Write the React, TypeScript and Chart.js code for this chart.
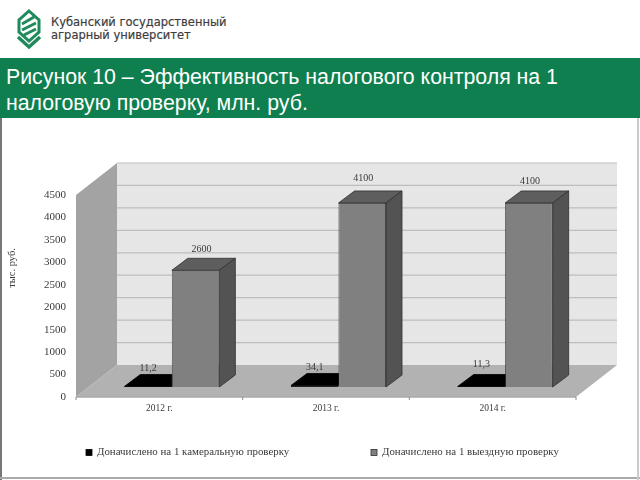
import React, { useEffect, useRef } from "react";
import { Chart, registerables } from "chart.js";

Chart.register(...registerables);

const categories = ["2012 г.", "2013 г.", "2014 г."];
const deskSeries = [11.2, 34.1, 11.3];
const fieldSeries = [2600, 4100, 4100];
const deskLabels = ["11,2", "34,1", "11,3"];
const fieldLabels = ["2600", "4100", "4100"];
const yTicks = [0, 500, 1000, 1500, 2000, 2500, 3000, 3500, 4000, 4500];
const seriesNames = ["Доначислено на 1 камеральную проверку", "Доначислено на 1 выездную проверку"];
const titleLines = ["Рисунок 10 – Эффективность налогового контроля на 1", "налоговую проверку, млн. руб."];
const logoLines = ["Кубанский государственный", "аграрный университет"];
const yTitle = "тыс. руб.";

const SERIF = "'Liberation Serif', serif";
const BAR_SHIFT = { x: 12.5, y: -10 };
const BAR_DEPTH = { x: 16, y: -12 };
const WALL_DEPTH = { x: 41, y: -32 };
const LEGEND_X = [89, 374];
const LEGEND_Y = 452.5;
const LABEL_OFFSETS: number[][][] = [
  [[0, -18], [0, -18], [0, -22]],
  [[6, -21], [1, -25], [1, -22]],
];

const scene = {
  id: "scene3d",
  beforeDatasetsDraw(chart: any) {
    const { ctx, chartArea: a, scales } = chart;
    const y = scales.y;
    const d = WALL_DEPTH;
    ctx.save();
    ctx.fillStyle = "#e6e6e6";
    ctx.fillRect(a.left + d.x, a.top + d.y, a.right - a.left, a.bottom - a.top);
    ctx.fillStyle = "#a3a3a3";
    ctx.beginPath();
    ctx.moveTo(a.left, a.top);
    ctx.lineTo(a.left + d.x, a.top + d.y);
    ctx.lineTo(a.left + d.x, a.bottom + d.y);
    ctx.lineTo(a.left, a.bottom);
    ctx.closePath();
    ctx.fill();
    ctx.fillStyle = "#b2b2b2";
    ctx.beginPath();
    ctx.moveTo(a.left, a.bottom);
    ctx.lineTo(a.left + d.x, a.bottom + d.y);
    ctx.lineTo(a.right + d.x, a.bottom + d.y);
    ctx.lineTo(a.right, a.bottom);
    ctx.closePath();
    ctx.fill();
    ctx.strokeStyle = "#bdbdbd";
    ctx.lineWidth = 1.2;
    yTicks.forEach((v) => {
      if (v === 0) return;
      const py = y.getPixelForValue(v) + d.y;
      ctx.beginPath();
      ctx.moveTo(a.left + d.x, py);
      ctx.lineTo(a.right + d.x, py);
      ctx.stroke();
    });
    ctx.strokeStyle = "#a8a8a8";
    ctx.lineWidth = 1.5;
    ctx.beginPath();
    ctx.moveTo(a.left, a.bottom);
    ctx.lineTo(a.right, a.bottom);
    ctx.stroke();
    ctx.strokeStyle = "#8c8c8c";
    ctx.lineWidth = 1;
    for (let i = 0; i <= categories.length; i++) {
      const px = a.left + ((a.right - a.left) * i) / categories.length;
      ctx.beginPath();
      ctx.moveTo(px, a.bottom);
      ctx.lineTo(px, a.bottom + 3);
      ctx.stroke();
    }
    ctx.restore();
  },
  beforeDatasetDraw(chart: any) {
    chart.ctx.save();
    chart.ctx.translate(BAR_SHIFT.x, BAR_SHIFT.y);
  },
  afterDatasetDraw(chart: any, args: any) {
    const { ctx } = chart;
    const d = BAR_DEPTH;
    const isField = args.index === 1;
    args.meta.data.forEach((bar: any) => {
      const { x, y, base, width } = bar.getProps(["x", "y", "base", "width"], true);
      const l = x - width / 2;
      const r = x + width / 2;
      ctx.lineWidth = 0.8;
      ctx.strokeStyle = isField ? "#2f2f2f" : "#000";
      ctx.fillStyle = isField ? "#5e5e5e" : "#000";
      ctx.beginPath();
      ctx.moveTo(l, y);
      ctx.lineTo(l + d.x, y + d.y);
      if (isField) {
        ctx.lineTo(r + d.x, y + d.y);
        ctx.lineTo(r, y);
      } else {
        // the neighbouring field-audit bar hides everything right of this edge
        ctx.lineTo(r, y + d.y);
        ctx.lineTo(r, y);
      }
      ctx.closePath();
      ctx.fill();
      ctx.stroke();
      if (isField) {
        ctx.fillStyle = "#535353";
        ctx.beginPath();
        ctx.moveTo(r, y);
        ctx.lineTo(r + d.x, y + d.y);
        ctx.lineTo(r + d.x, base + d.y);
        ctx.lineTo(r, base);
        ctx.closePath();
        ctx.fill();
        ctx.stroke();
      }
    });
    ctx.restore();
  },
  afterDatasetsDraw(chart: any) {
    const { ctx } = chart;
    ctx.save();
    ctx.font = `10px ${SERIF}`;
    ctx.fillStyle = "#3a3a3a";
    ctx.textAlign = "center";
    ctx.textBaseline = "middle";
    [deskLabels, fieldLabels].forEach((labels, ds) => {
      chart.getDatasetMeta(ds).data.forEach((bar: any, i: number) => {
        const [ox, oy] = LABEL_OFFSETS[ds][i];
        ctx.fillText(labels[i], bar.x + BAR_SHIFT.x + ox, bar.y + BAR_SHIFT.y + oy);
      });
    });
    // y-axis title, set above the axis centre as in the source figure
    ctx.save();
    ctx.translate(12, 268);
    ctx.rotate(-Math.PI / 2);
    ctx.font = `10.5px ${SERIF}`;
    ctx.fillText(yTitle, 0, 0);
    ctx.restore();
    // legend
    ctx.textAlign = "left";
    ctx.font = `10.9px ${SERIF}`;
    chart.data.datasets.forEach((ds: any, i: number) => {
      ctx.fillStyle = ds.backgroundColor;
      ctx.strokeStyle = ds.borderColor;
      ctx.lineWidth = 0.8;
      ctx.fillRect(LEGEND_X[i] - 3, LEGEND_Y - 3, 6, 6);
      ctx.strokeRect(LEGEND_X[i] - 3, LEGEND_Y - 3, 6, 6);
      ctx.fillStyle = "#3a3a3a";
      ctx.fillText(ds.label, LEGEND_X[i] + 8, LEGEND_Y);
    });
    ctx.restore();
  },
};

export default function App() {
  const ref = useRef<HTMLCanvasElement>(null);
  useEffect(() => {
    document.body.style.margin = "0";
    document.body.style.background = "#fff";
    const chart = new Chart(ref.current!, {
      type: "bar",
      data: {
        labels: categories,
        datasets: [
          { label: seriesNames[0], data: deskSeries, backgroundColor: "#000000", borderColor: "#000000", borderWidth: 0.8 },
          { label: seriesNames[1], data: fieldSeries, backgroundColor: "#808080", borderColor: "#2f2f2f", borderWidth: 0.8 },
        ],
      },
      plugins: [scene],
      options: {
        animation: false,
        responsive: false,
        devicePixelRatio: 1,
        layout: { padding: { left: 8, right: 64, top: 195, bottom: 0 } },
        datasets: { bar: { categoryPercentage: 0.57, barPercentage: 1 } },
        plugins: {
          tooltip: { enabled: false },
          legend: { display: false },
        },
        scales: {
          x: {
            grid: { display: false },
            border: { display: false },
            ticks: { color: "#3a3a3a", font: { family: SERIF, size: 9.5 }, padding: -2 },
            afterFit: (s: any) => { s.height = 83; },
          },
          y: {
            min: 0,
            max: 4500,
            grid: { display: false },
            border: { display: false },
            afterFit: (s: any) => { s.width = 68; },
            ticks: {
              stepSize: 500,
              color: "#3a3a3a",
              font: { family: SERIF, size: 11 },
              padding: 2,
              callback: (v: any) => String(v),
            },
          },
        },
      },
    });
    return () => chart.destroy();
  }, []);

  return (
    <div style={{ position: "relative", width: 640, height: 480, overflow: "hidden", background: "#fff" }}>
      <svg style={{ position: "absolute", left: 16, top: 9, filter: "blur(0.3px)" }} width="26" height="42" viewBox="0 0 26 42">
        <path d="M13 2 L23 11 L23 23 L13 32 L3 23 L3 11 Z" fill="none" stroke="#1f8a5b" strokeWidth="3" />
        <path d="M6 15 L18 8 M6 21 L20 14 M8 26 L20 20" stroke="#1f8a5b" strokeWidth="3" />
        <path d="M2 28 L13 38 L24 28" fill="none" stroke="#1f8a5b" strokeWidth="3.4" />
      </svg>
      <div style={{ position: "absolute", left: 51, top: 16, fontFamily: "'DejaVu Sans', sans-serif", fontSize: 11.5, fontWeight: 500, lineHeight: "13px", color: "#3d3d3d", whiteSpace: "nowrap", WebkitTextStroke: "0.2px #3d3d3d" }}>
        {logoLines.map((t) => <div key={t}>{t}</div>)}
      </div>
      <div style={{ position: "absolute", left: 0, top: 58, width: 640, height: 60, background: "#0f7f4f" }} />
      <div style={{ position: "absolute", left: 6, top: 64, fontFamily: "'Liberation Sans', sans-serif", fontSize: 21.3, lineHeight: "26px", color: "#fff", whiteSpace: "nowrap" }}>
        {titleLines.map((t) => <div key={t}>{t}</div>)}
      </div>
      <div style={{ position: "absolute", left: 0, top: 118, width: 1.5, height: 362, background: "#777" }} />
      <div style={{ position: "absolute", left: 0, top: 477, width: 640, height: 1.5, background: "#aaa" }} />
      <div style={{ position: "absolute", left: 637, top: 118, width: 1.5, height: 362, background: "#ccc" }} />
      <canvas ref={ref} width={640} height={480} style={{ position: "absolute", left: 0, top: 0, width: 640, height: 480, filter: "blur(0.35px)" }} />
    </div>
  );
}
